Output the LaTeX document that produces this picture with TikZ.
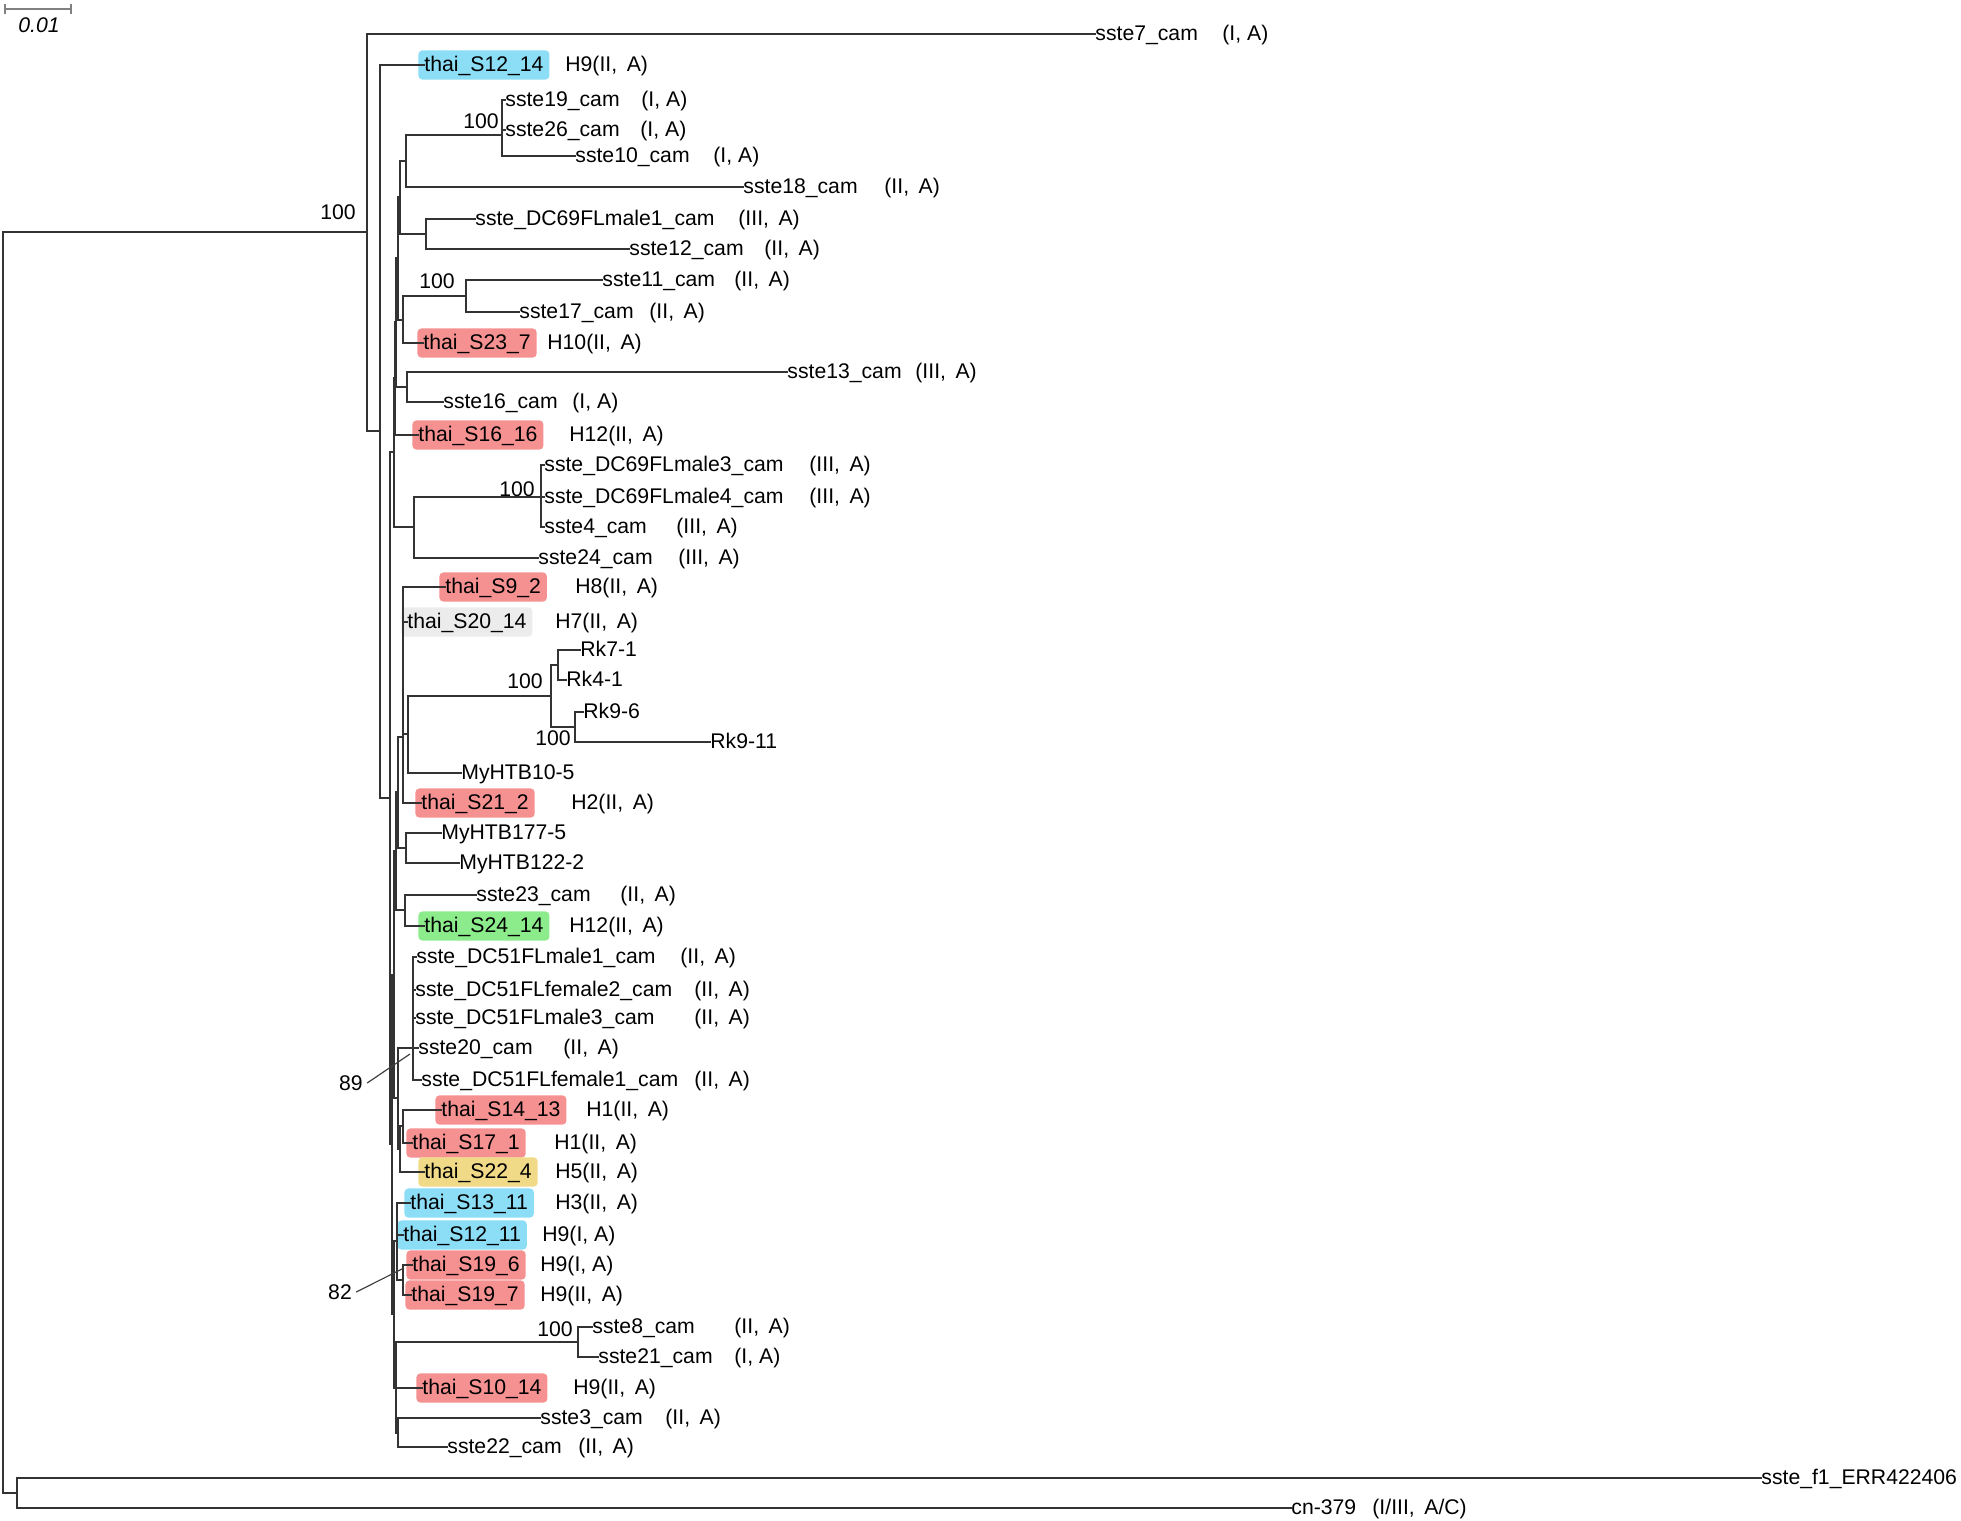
\documentclass[tikz,border=0pt]{standalone}
\usepackage{fontspec}
\setmainfont{Liberation Sans}
\usetikzlibrary{positioning, calc}

\definecolor{boxblue}{RGB}{140,221,246}
\definecolor{boxred}{RGB}{246,145,145}
\definecolor{boxgreen}{RGB}{140,236,140}
\definecolor{boxyellow}{RGB}{240,218,135}
\definecolor{boxgrey}{RGB}{236,236,236}

\newcommand{\wsp}{\hspace{0.45em}}
% tip: [box]{name}{parent}{text}{x}{y}
\newcommand{\tip}[6][]{%
  \node[lab,#1] (#2) at (#5,#6) {#4};
  \draw[br] (#3 |- #2) -- ([xshift=3pt]#2.west);}
% leaf: tip plus its group tag
\newcommand{\leaf}[8][]{%
  \tip[#1]{#2}{#3}{#4}{#5}{#6}
  \node[ann] (#2-h) at (#7,#6) {#8};}

\begin{document}
\begin{tikzpicture}[x=0.5pt, y=-0.5pt,
  br/.style={line width=0.75pt, black!80, line cap=rect},
  lab/.style={anchor=west, xshift=-3pt, inner xsep=3pt, inner ysep=2pt,
    text height=8.6pt, text depth=2pt, rounded corners=2pt,
    font=\fontsize{10.6}{12}\selectfont},
  ann/.style={anchor=west, inner xsep=0pt, text height=8.6pt, text depth=2pt,
    font=\fontsize{10.6}{12}\selectfont},
  bs/.style={inner sep=0pt, font=\fontsize{10.6}{12}\selectfont},
  hblu/.style={fill=boxblue}, hred/.style={fill=boxred},
  hgrn/.style={fill=boxgreen}, hyel/.style={fill=boxyellow},
  hgry/.style={fill=boxgrey}]
    \useasboundingbox (0,0) rectangle (1961,1521);

    % Scale bar
    \draw[gray, line width=0.6pt] (5,9) -- (71,9);
    \draw[gray, line width=0.6pt] (5,4) -- (5,14) (71,4) -- (71,14);
    \node[bs, font=\fontsize{10.6}{12}\selectfont\itshape] (scale) at (39,25) {0.01};

    % Internal nodes
    \coordinate (R) at (3,862);
    \coordinate (A) at (367,232);
    \coordinate (B) at (380,431);
    \coordinate (C) at (390,798);
    \coordinate (U) at (394,452);
    \coordinate (U2) at (395,378);
    \coordinate (U3) at (396,322);
    \coordinate (U4) at (398,258);
    \coordinate (N4) at (400,197);
    \coordinate (N2) at (406,161);
    \coordinate (N1) at (502,135);
    \coordinate (N3) at (426,234);
    \coordinate (N6) at (403,320);
    \coordinate (N5) at (466,296);
    \coordinate (N7) at (407,387);
    \coordinate (N9) at (414,527);
    \coordinate (N8) at (541,497);
    \coordinate (L) at (392,1144);
    \coordinate (P4) at (394,975);
    \coordinate (P2) at (396,851);
    \coordinate (P1) at (398,792);
    \coordinate (N10) at (403,737);
    \coordinate (N11) at (408,734);
    \coordinate (Rk) at (551,696);
    \coordinate (Rka) at (558,665);
    \coordinate (Rkb) at (575,727);
    \coordinate (N12) at (406,848);
    \coordinate (N13) at (405,910);
    \coordinate (P3) at (398,1098);
    \coordinate (N14) at (413,1048);
    \coordinate (N15) at (400,1149);
    \coordinate (N15a) at (403,1126);
    \coordinate (P7) at (394,1314);
    \coordinate (P5) at (397,1241);
    \coordinate (N16) at (403,1280);
    \coordinate (P6) at (396,1388);
    \coordinate (N17) at (578,1342);
    \coordinate (N18) at (398,1433);
    \coordinate (O) at (17,1493);

    % Upper clade
    \leaf{s7}{A}{sste7\_cam}{1095}{34}{1222}{(I, A)}
    \leaf[hblu]{t1214}{B}{thai\_S12\_14}{424}{65}{565}{H9(II,\wsp A)}
    \leaf{s19}{N1}{sste19\_cam}{505}{100}{641}{(I, A)}
    \leaf{s26}{N1}{sste26\_cam}{505}{130}{640}{(I, A)}
    \leaf{s10}{N1}{sste10\_cam}{575}{156}{713}{(I, A)}
    \leaf{s18}{N2}{sste18\_cam}{743}{187}{884}{(II,\wsp A)}
    \leaf{dc1}{N3}{sste\_DC69FLmale1\_cam}{475}{219}{738}{(III,\wsp A)}
    \leaf{s12}{N3}{sste12\_cam}{629}{249}{764}{(II,\wsp A)}
    \leaf{s11}{N5}{sste11\_cam}{602}{280}{734}{(II,\wsp A)}
    \leaf{s17}{N5}{sste17\_cam}{519}{312}{649}{(II,\wsp A)}
    \leaf[hred]{t237}{N6}{thai\_S23\_7}{423}{343}{547}{H10(II,\wsp A)}
    \leaf{s13}{N7}{sste13\_cam}{787}{372}{915}{(III,\wsp A)}
    \leaf{s16}{N7}{sste16\_cam}{443}{402}{572}{(I, A)}
    \leaf[hred]{t1616}{U2}{thai\_S16\_16}{418}{435}{569}{H12(II,\wsp A)}
    \leaf{dc3}{N8}{sste\_DC69FLmale3\_cam}{544}{465}{809}{(III,\wsp A)}
    \leaf{dc4}{N8}{sste\_DC69FLmale4\_cam}{544}{497}{809}{(III,\wsp A)}
    \leaf{s4}{N8}{sste4\_cam}{544}{527}{676}{(III,\wsp A)}
    \leaf{s24}{N9}{sste24\_cam}{538}{558}{678}{(III,\wsp A)}

    % Lower clade
    \leaf[hred]{t92}{N10}{thai\_S9\_2}{445}{587}{575}{H8(II,\wsp A)}
    \leaf[hgry]{t2014}{N10}{thai\_S20\_14}{407}{622}{555}{H7(II,\wsp A)}
    \tip{rk71}{Rka}{Rk7-1}{580}{650}
    \tip{rk41}{Rka}{Rk4-1}{566}{680}
    \tip{rk96}{Rkb}{Rk9-6}{583}{712}
    \tip{rk911}{Rkb}{Rk9-11}{710}{742}
    \tip{my105}{N11}{MyHTB10-5}{461}{773}
    \leaf[hred]{t212}{N10}{thai\_S21\_2}{421}{803}{571}{H2(II,\wsp A)}
    \tip{my177}{N12}{MyHTB177-5}{441}{833}
    \tip{my122}{N12}{MyHTB122-2}{459}{863}
    \leaf{s23}{N13}{sste23\_cam}{476}{895}{620}{(II,\wsp A)}
    \leaf[hgrn]{t2414}{N13}{thai\_S24\_14}{424}{926}{569}{H12(II,\wsp A)}
    \leaf{dcm1}{N14}{sste\_DC51FLmale1\_cam}{416}{957}{680}{(II,\wsp A)}
    \leaf{dcf2}{N14}{sste\_DC51FLfemale2\_cam}{415}{990}{694}{(II,\wsp A)}
    \leaf{dcm3}{N14}{sste\_DC51FLmale3\_cam}{415}{1018}{694}{(II,\wsp A)}
    \leaf{s20}{N14}{sste20\_cam}{418}{1048}{563}{(II,\wsp A)}
    \leaf{dcf1}{N14}{sste\_DC51FLfemale1\_cam}{421}{1080}{694}{(II,\wsp A)}
    \leaf[hred]{t1413}{N15a}{thai\_S14\_13}{441}{1110}{586}{H1(II,\wsp A)}
    \leaf[hred]{t171}{N15a}{thai\_S17\_1}{412}{1143}{554}{H1(II,\wsp A)}
    \leaf[hyel]{t224}{N15}{thai\_S22\_4}{424}{1172}{555}{H5(II,\wsp A)}
    \leaf[hblu]{t1311}{P5}{thai\_S13\_11}{410}{1203}{555}{H3(II,\wsp A)}
    \leaf[hblu]{t1211}{P5}{thai\_S12\_11}{403}{1235}{542}{H9(I, A)}
    \leaf[hred]{t196}{N16}{thai\_S19\_6}{412}{1265}{540}{H9(I, A)}
    \leaf[hred]{t197}{N16}{thai\_S19\_7}{411}{1295}{540}{H9(II,\wsp A)}
    \leaf{s8}{N17}{sste8\_cam}{592}{1327}{734}{(II,\wsp A)}
    \leaf{s21}{N17}{sste21\_cam}{598}{1357}{734}{(I, A)}
    \leaf[hred]{t1014}{P6}{thai\_S10\_14}{422}{1388}{573}{H9(II,\wsp A)}
    \leaf{s3}{N18}{sste3\_cam}{540}{1418}{665}{(II,\wsp A)}
    \leaf{s22}{N18}{sste22\_cam}{447}{1447}{578}{(II,\wsp A)}

    % Outgroup
    \tip{sf1}{O}{sste\_f1\_ERR422406}{1761}{1478}
    \leaf{cn}{O}{cn-379}{1291}{1508}{1372}{(I/III,\wsp A/C)}

    % Vertical bars: node / first child / last child
    \foreach \n/\a/\b in {R/A/O, A/s7/B, B/t1214/C, C/U/L, U/U2/N9, U2/U3/t1616,
        U3/U4/N7, U4/N4/N6, N4/N2/N3, N2/N1/s18, N1/s19/s10, N3/dc1/s12,
        N6/N5/t237, N5/s11/s17, N7/s13/s16, N9/N8/s24, N8/dc3/s4,
        L/P4/P7, P4/P2/P3, P2/P1/N13, P1/N10/N12, N10/t92/t212, N11/Rk/my105,
        Rk/Rka/Rkb, Rka/rk71/rk41, Rkb/rk96/rk911, N12/my177/my122,
        N13/s23/t2414, P3/N14/N15, N14/dcm1/dcf1, N15/N15a/t224,
        N15a/t1413/t171, P7/P5/P6, P5/t1311/N16, N16/t196/t197,
        P6/N17/N18, N17/s8/s21, N18/s3/s22, O/sf1/cn}
      \draw[br] (\n |- \a) -- (\n |- \b);

    % Horizontal branches to inner nodes
    \foreach \p/\c in {R/A, A/B, B/C, C/U, C/L, U/U2, U/N9, U2/U3, U3/U4,
        U3/N7, U4/N4, U4/N6, N4/N2, N4/N3, N2/N1, N6/N5, N9/N8,
        L/P4, L/P7, P4/P2, P4/P3, P2/P1, P2/N13, P1/N10, P1/N12, N10/N11,
        N11/Rk, Rk/Rka, Rk/Rkb, P3/N14, P3/N15, N15/N15a, P7/P5, P7/P6,
        P5/N16, P6/N17, P6/N18, R/O}
      \draw[br] (\p |- \c) -- (\c);

    % Bootstrap values
    \node[bs] (bA) at (338,212) {100};
    \node[bs] (bN1) at (481,121) {100};
    \node[bs] (bN5) at (437,281) {100};
    \node[bs] (bN8) at (517,489) {100};
    \node[bs] (bRk) at (525,681) {100};
    \node[bs] (bRkb) at (553,738) {100};
    \node[bs] (bN17) at (555,1329) {100};
    \node[bs] (b89) at (351,1083) {89};
    \node[bs] (b82) at (340,1292) {82};
    \coordinate (k89) at (410,1054);
    \coordinate (k82) at (404,1268);
    \draw[line width=0.6pt, black!75] ([xshift=2pt]b89.east) -- (k89);
    \draw[line width=0.6pt, black!75] ([xshift=2pt]b82.east) -- (k82);
\end{tikzpicture}
\end{document}
